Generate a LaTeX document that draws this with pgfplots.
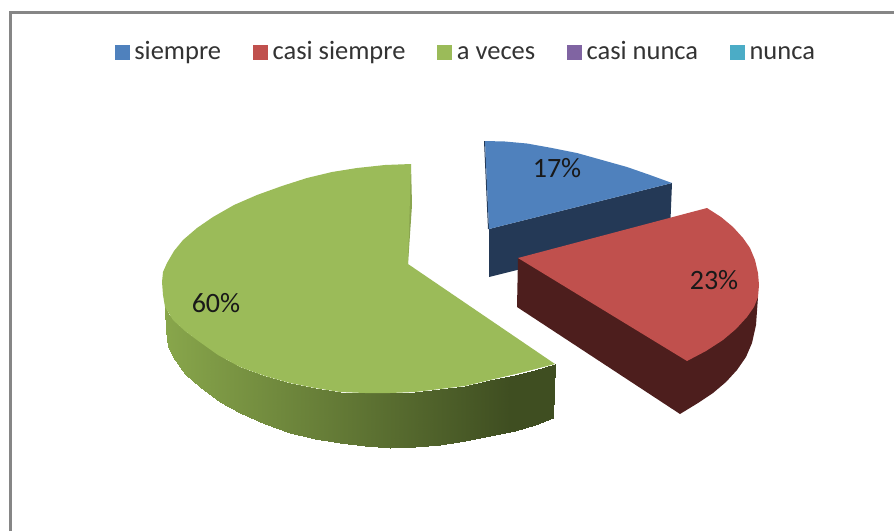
\documentclass[border=0pt]{standalone}
\usepackage{pgfplots}
\usepackage{fontspec}
\setmainfont{Carlito}
\pgfplotsset{compat=1.18}
\definecolor{cblue}{RGB}{79,129,189}
\definecolor{cred}{RGB}{192,80,77}
\definecolor{cgreen}{RGB}{155,187,89}
\definecolor{cpurple}{RGB}{128,100,162}
\definecolor{cteal}{RGB}{75,172,198}
\definecolor{dblue}{RGB}{36,57,86}
\definecolor{dred}{RGB}{77,30,29}
\definecolor{lgreen}{RGB}{138,165,79}
\definecolor{frame}{RGB}{134,134,134}
\begin{document}
\begin{tikzpicture}
\begin{axis}[
    scale only axis, width=894pt, height=531pt,
    xmin=0, xmax=894, ymin=0, ymax=531, y dir=reverse,
    hide axis, no markers,
    colormap={greenside}{rgb255(0cm)=(136,166,75) rgb255(8.85cm)=(63,78,33) rgb255(10cm)=(63,78,33)},
    legend columns=5,
    legend style={draw=none, fill=none, at={(axis cs:466,52)}, anchor=center,
        font=\fontsize{26.5}{30}\selectfont, text=black!80,
        inner sep=0pt, cells={anchor=west, text height=17pt, text depth=6pt},
        /tikz/every odd column/.style={column sep=3pt},
        /tikz/every even column/.style={column sep=30pt}},
    legend image code/.code={\fill[#1] (0pt,-7pt) rectangle (14pt,7pt);},
]
\addlegendimage{cblue}
\addlegendimage{cred}
\addlegendimage{cgreen}
\addlegendimage{cpurple}
\addlegendimage{cteal}

% keeps the page as large as the axis
\addplot[draw=none, forget plot] coordinates {(0,0) (894,531)};

% frame
\addplot[frame, line width=2.5pt, forget plot] coordinates {(10.5,531) (10.5,12.5) (894,12.5)};

% blue slice
\addplot[dblue, fill=dblue, draw=none, forget plot] coordinates {
  (489,229) (672,183) (670,232) (489,277)} -- cycle;
\addplot[dblue, fill=dblue, draw=none, forget plot] coordinates {
  (484,141) (485,141) (489,229) (488,229)} -- cycle;
\addplot[cblue, fill=cblue, draw=none, forget plot] coordinates {
  (485,141) (505,141.5) (527,143.5) (552,148) (577,153) (602,160) (627,167) (650,175) (672,183) (489,229)} -- cycle;

% red slice
\addplot[dred, fill=dred, draw=none, forget plot] coordinates {
  (518,258) (517,307) (680,414) (698,403) (713,393) (726,382) (737,370) (746,357) (752,343) (756,325) (758,297) (687,340)} -- cycle;
\addplot[cred, fill=cred, draw=none, forget plot] coordinates {
  (518,258) (707,208) (721,217) (733,227) (743,238) (750,248) (755,260) (758,273) (759,285) (758,297) (754,307) (747,317) (736,329) (723,340) (706,351) (687,361)} -- cycle;

% green slice: side
\addplot[surf, shader=interp, mesh/rows=2, point meta=\thisrow{c}, forget plot] table {
x y c
165 307 165
166 309 166
168 314 168
173 320 173
185 331 185
200 342 200
220 356 220
240 367 240
265 376 265
290 383 290
315 388 315
340 392 340
365 393 365
390 393 390
415 392 415
440 389 440
465 386 465
490 380 490
515 375 515
535 370 535
555 364 555
165 310 165
166 330 166
168 347 168
173 357 173
185 374 185
200 387 200
220 402 220
240 413 240
265 424 265
290 433 290
315 439 315
340 443 340
365 446 365
390 448 390
415 447 415
440 445 440
465 441 465
490 436 490
515 431 515
535 425 535
553 418 555
};
\addplot[lgreen, fill=lgreen, draw=none, forget plot] coordinates {
  (411,164) (404,262) (408,264) (412,205)} -- cycle;
\addplot[cgreen, fill=cgreen, draw=none, forget plot] coordinates {
  (408,264) (411,164) (385,165) (357,168) (332,172) (307,178) (282,186) (257,195) (234,205) (213,217) (197,228) (183,240) (174,251) (167,263) (163,272) (162,282) (163,295) (165,307) (173,320) (185,331) (197,340) (218,355) (240,367) (265,376) (290,383) (315,388) (340,392) (365,393) (390,393) (415,392) (440,389) (465,386) (490,380) (520,373) (555,364)} -- cycle;

\legend{siempre, casi siempre, a veces, casi nunca, nunca}

\node[font=\fontsize{28}{32}\selectfont, text=black!90] at (axis cs:557,168) {17\%};
\node[font=\fontsize{28}{32}\selectfont, text=black!90] at (axis cs:714,280) {23\%};
\node[font=\fontsize{28}{32}\selectfont, text=black!90] at (axis cs:216,303) {60\%};
\end{axis}
\end{tikzpicture}
\end{document}
